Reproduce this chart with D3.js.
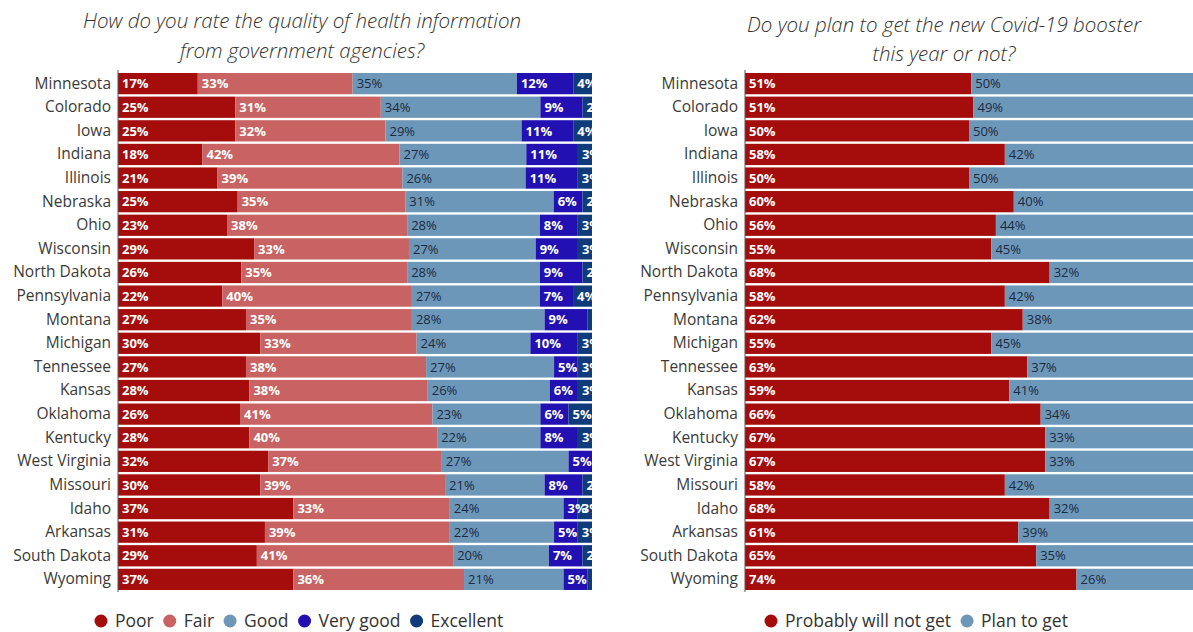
<!DOCTYPE html>
<html><head><meta charset="utf-8">
<script src="https://cdn.jsdelivr.net/npm/d3@7"></script>
<style>
body{margin:0;background:#fff;}
svg{display:block;}
</style></head>
<body><svg id="c" width="1193" height="632"></svg>
<script>
const states = ["Minnesota","Colorado","Iowa","Indiana","Illinois","Nebraska","Ohio","Wisconsin","North Dakota","Pennsylvania","Montana","Michigan","Tennessee","Kansas","Oklahoma","Kentucky","West Virginia","Missouri","Idaho","Arkansas","South Dakota","Wyoming"];
const poor     = [17,25,25,18,21,25,23,29,26,22,27,30,27,28,26,28,32,30,37,31,29,37];
const fair     = [33,31,32,42,39,35,38,33,35,40,35,33,38,38,41,40,37,39,33,39,41,36];
const good     = [35,34,29,27,26,31,28,27,28,27,28,24,27,26,23,22,27,21,24,22,20,21];
const veryGood = [12,9,11,11,11,6,8,9,9,7,9,10,5,6,6,8,5,8,3,5,7,5];
const excellent= [4,2,4,3,3,2,3,3,2,4,1,3,3,3,5,3,0,2,3,3,2,1];
const willNot  = [51,51,50,58,50,60,56,55,68,58,62,55,63,59,66,67,67,58,68,61,65,74];
const planTo   = [50,49,50,42,50,40,44,45,32,42,38,45,37,41,34,33,33,42,32,39,35,26];

const qKeys = ["Poor","Fair","Good","Very good","Excellent"];
const qSeries = [poor,fair,good,veryGood,excellent];
const qColors = ["#a50d0d","#c96262","#6d97b9","#2210b3","#0f3b7a"];
const qText = ["#fff","#fff","#1b2a3e","#fff","#fff"];
const qWeight = [700,700,500,700,700];
const bKeys = ["Probably will not get","Plan to get"];
const bSeries = [willNot, planTo];
const bColors = ["#a50d0d","#6d97b9"];
const bText = ["#fff","#1b2a3e"];
const bWeight = [700,500];

const svg = d3.select("#c");
const y = d3.scaleBand().domain(states).range([73, 590]).paddingInner(0.1);

function panel(opts){
  const {keys, series, colors, textColors, weights, x0, x1, clipId, clipRight} = opts;
  const rows = states.map((s,i)=>{const o={state:s}; keys.forEach((k,j)=>o[k]=series[j][i]); return o;});
  const stack = d3.stack().keys(keys).offset(d3.stackOffsetExpand)(rows);
  const x = d3.scaleLinear().domain([0,1]).range([x0,x1]);
  svg.append("clipPath").attr("id",clipId).append("rect")
    .attr("x",x0).attr("y",0).attr("width",clipRight-x0).attr("height",632);
  const g = svg.append("g");
  stack.forEach((layer,j)=>{
    g.append("g").selectAll("rect").data(layer).join("rect")
      .attr("x",d=>x(d[0])).attr("y",d=>y(d.data.state))
      .attr("width",d=>Math.max(0,x(d[1])-x(d[0]))).attr("height",y.bandwidth())
      .attr("fill",colors[j]);
  });
  const lg = g.append("g").attr("clip-path",`url(#${clipId})`);
  stack.forEach((layer,j)=>{
    lg.append("g").selectAll("text").data(layer.filter(d=>d.data[keys[j]]>0)).join("text")
      .attr("x",d=>x(d[0])+4).attr("y",d=>y(d.data.state)+y.bandwidth()/2)
      .attr("dy","0.36em")
      .attr("font-family","'Open Sans', 'Noto Sans', sans-serif")
      .attr("font-weight", weights[j]).attr("font-size",13)
      .attr("fill",textColors[j])
      .text(d=>d.data[keys[j]]+"%");
  });
  const ax = svg.append("g").attr("transform",`translate(${x0},0)`)
    .call(d3.axisLeft(y).tickSize(0).tickPadding(7));
  ax.select(".domain").attr("stroke","#555").attr("d",`M0,70V592`);
  ax.selectAll("text").attr("font-family","'Open Sans', sans-serif").attr("font-weight",400)
    .attr("font-size",15.5).attr("fill","#3a3a3a");
}

panel({keys:qKeys, series:qSeries, colors:qColors, textColors:qText, weights:qWeight, x0:118, x1:592, clipId:"cl1", clipRight:597});
panel({keys:bKeys, series:bSeries, colors:bColors, textColors:bText, weights:bWeight, x0:745, x1:1193, clipId:"cl2", clipRight:1193});

function title(lines, cx, ys, fs){
  lines.forEach((t,i)=>svg.append("text").attr("x",cx).attr("y",ys[i]).attr("text-anchor","middle")
    .attr("font-family","'Open Sans', sans-serif").attr("font-style","italic").attr("font-weight",300)
    .attr("font-size",fs).attr("fill","#333").text(t));
}
title(["How do you rate the quality of health information","from government agencies?"], 302, [28, 58], 20.5);
title(["Do you plan to get the new Covid-19 booster","this year or not?"], 944, [32, 61], 20.5);

function legend(keys, colors, startX, yPos){
  let xp = startX;
  keys.forEach((k,i)=>{
    svg.append("circle").attr("cx",xp).attr("cy",yPos).attr("r",6.5).attr("fill",colors[i]);
    const t = svg.append("text").attr("x",xp+14).attr("y",yPos).attr("dy","0.35em")
      .attr("font-family","'Open Sans', sans-serif").attr("font-size",17.5).attr("fill","#333").text(k);
    xp += 14 + t.node().getComputedTextLength() + 16;
  });
}
legend(qKeys, qColors, 101, 621);
legend(bKeys, bColors, 771, 621);
</script></body></html>
